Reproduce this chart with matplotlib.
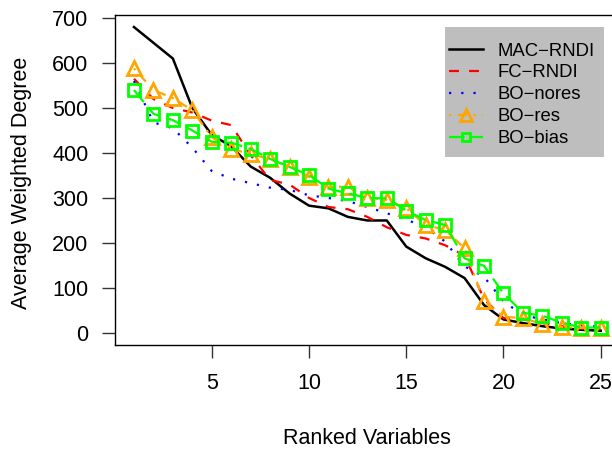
import numpy as np
import matplotlib.pyplot as plt
from matplotlib.patches import Rectangle

plt.rcParams['font.family'] = ['Liberation Sans', 'DejaVu Sans']

ranks = np.arange(1, 26)

mac_rndi = [680, 645, 610, 500, 440, 415, 370, 345, 310, 283,
            277, 258, 250, 250, 192, 166, 147, 122, 62, 30,
            22, 15, 10, 7, 5]
fc_rndi = [565, 520, 500, 490, 472, 462, 395, 340, 330, 300,
           280, 275, 258, 235, 218, 210, 195, 172, 75, 33,
           30, 22, 15, 10, 8]
bo_nores = [560, 468, 455, 412, 360, 343, 333, 323, 318, 306,
            300, 293, 280, 266, 252, 235, 203, 148, 125, 70,
            40, 30, 22, 17, 14]
bo_res = [588, 540, 522, 495, 435, 409, 398, 386, 370, 347,
          325, 325, 301, 296, 277, 240, 229, 188, 70, 36,
          33, 20, 13, 11, 12]
bo_bias = [540, 487, 473, 450, 425, 423, 409, 387, 369, 351,
           321, 310, 300, 299, 272, 251, 240, 166, 149, 88,
           45, 38, 23, 12, 12]

labels = ['MAC\u2212RNDI', 'FC\u2212RNDI', 'BO\u2212nores', 'BO\u2212res', 'BO\u2212bias']
xticks = [5, 10, 15, 20, 25]
yticks = [0, 100, 200, 300, 400, 500, 600, 700]

W, H = 612, 450
fig = plt.figure(figsize=(W / 100, H / 100), dpi=100)
# axes box runs past the right edge of the picture, as in the original
left, right, top, bottom = 115.3, 619.4, 14.8, 345.2
ax = fig.add_axes([left / W, 1 - bottom / H, (right - left) / W, (bottom - top) / H])

lw = 1.6
ax.plot(ranks, mac_rndi, color='black', lw=1.8, label=labels[0])
ax.plot(ranks, fc_rndi, color='#ff0000', lw=lw, ls=(0, (4.5, 4.5)), label=labels[1])
ax.plot(ranks, bo_nores, color='#0000ff', lw=lw, ls=(0, (1, 4.5)), label=labels[2])
ax.plot(ranks, bo_res, color='#ffa500', lw=lw, ls=(0, (1, 3, 4, 3)),
        marker='^', ms=10, mfc='none', mew=2, label=labels[3])
ax.plot(ranks, bo_bias, color='#00ff00', lw=lw, ls=(0, (7, 3)),
        marker='s', ms=8, mfc='none', mew=2, label=labels[4])

ax.set_xlim(0.04, 25.96)
ax.set_ylim(-27.2, 707.2)
ax.set_xticks(xticks)
ax.set_yticks(yticks)
ax.tick_params(direction='out', length=9.4, width=1.0, labelsize=15.5, color='#333333')
ax.tick_params(axis='x', pad=10.5)
ax.tick_params(axis='y', pad=9.9)
for s in ax.spines.values():
    s.set_linewidth(1.0)

ax.set_xlabel('Ranked Variables', fontsize=15.5)
ax.set_ylabel('Average Weighted Degree', fontsize=15.5)
ax.xaxis.set_label_coords(0.5, -0.251)
ax.yaxis.set_label_coords(-0.165, 0.49)

# grey legend panel
ax.add_patch(Rectangle((445 / W, 1 - 157 / H), 159 / W, 130 / H,
                       transform=fig.transFigure, facecolor='#bebebe',
                       edgecolor='none', zorder=4, clip_on=False))
leg = ax.legend(loc='upper left', bbox_to_anchor=(449 / W, 1 - 42.5 / H),
                bbox_transform=fig.transFigure, fontsize=13.3, frameon=False,
                handlelength=1.84, handletextpad=0.81, labelspacing=0.27,
                borderpad=0, borderaxespad=0, markerscale=0.8)
leg.set_zorder(6)

fig.savefig('out.png', dpi=100)
